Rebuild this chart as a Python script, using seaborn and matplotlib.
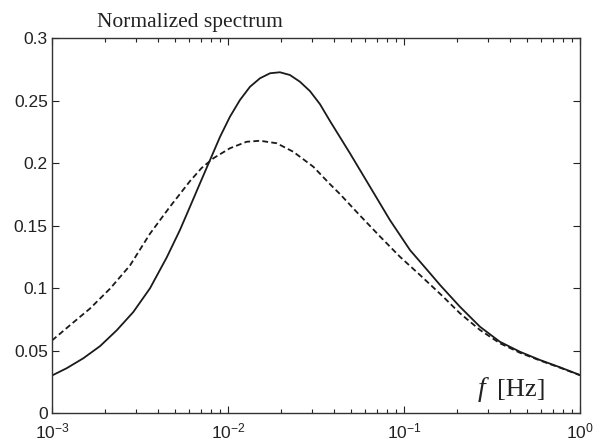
import numpy as np
import pandas as pd
import matplotlib
matplotlib.use('Agg')
import matplotlib.pyplot as plt
from matplotlib.ticker import LogLocator, NullFormatter
import seaborn as sns

# values (log10 of frequency, normalized spectrum)
logf_solid = [-3.0, -2.917, -2.822, -2.727, -2.632, -2.538, -2.443, -2.348, -2.273,
              -2.216, -2.159, -2.102, -2.045, -1.989, -1.932, -1.875, -1.818, -1.761,
              -1.705, -1.648, -1.591, -1.534, -1.477, -1.420, -1.307, -1.193, -1.080,
              -0.966, -0.852, -0.795, -0.682, -0.568, -0.455, -0.341, -0.227, -0.114, 0.0]
spec_solid = [0.0300, 0.0358, 0.0438, 0.0535, 0.0662, 0.0808, 0.0998, 0.1245, 0.1464,
              0.1650, 0.1838, 0.2024, 0.2210, 0.2370, 0.2504, 0.2610, 0.2678, 0.2718,
              0.2726, 0.2704, 0.2650, 0.2575, 0.2470, 0.2335, 0.2078, 0.1810, 0.1544,
              0.1304, 0.1118, 0.1024, 0.0850, 0.0690, 0.0570, 0.0490, 0.0424, 0.0366, 0.0304]

logf_dashed = [-3.0, -2.898, -2.784, -2.670, -2.557, -2.443, -2.330, -2.216, -2.150,
               -2.083, -1.989, -1.894, -1.818, -1.723, -1.629, -1.515, -1.420, -1.364,
               -1.250, -1.136, -1.023, -0.909, -0.777, -0.682, -0.568, -0.455, -0.341,
               -0.227, -0.114, 0.0]
spec_dashed = [0.0580, 0.0702, 0.0836, 0.0995, 0.1180, 0.1435, 0.1650, 0.1855, 0.1960,
               0.2038, 0.2118, 0.2170, 0.2178, 0.2158, 0.2090, 0.1970, 0.1830, 0.1752,
               0.1580, 0.1412, 0.1250, 0.1104, 0.0930, 0.0798, 0.0664, 0.0558, 0.0482,
               0.0420, 0.0363, 0.0302]

y_ticks = [0, 0.05, 0.1, 0.15, 0.2, 0.25, 0.3]
y_labels = ['0', '0.05', '0.1', '0.15', '0.2', '0.25', '0.3']

df = pd.concat([
    pd.DataFrame({'f': 10.0 ** np.array(logf_solid), 'S': spec_solid, 'case': 'a'}),
    pd.DataFrame({'f': 10.0 ** np.array(logf_dashed), 'S': spec_dashed, 'case': 'b'}),
])

sns.set_style('ticks')
plt.rcParams['font.family'] = ['Liberation Sans', 'DejaVu Sans']
plt.rcParams['mathtext.fontset'] = 'custom'
plt.rcParams['mathtext.rm'] = 'Liberation Sans'
plt.rcParams['mathtext.it'] = 'Liberation Sans:italic'

fig = plt.figure(figsize=(5.93, 4.44), dpi=100)
ax = fig.add_axes([0.0877, 0.0698, 0.8903, 0.8446])

sns.lineplot(data=df, x='f', y='S', style='case', dashes={'a': '', 'b': (3.2, 1.8)},
             color='#1a1a1a', linewidth=1.3, legend=False, ax=ax, sort=False)

ax.set_xscale('log')
ax.set_xlim(1e-3, 1)
ax.set_ylim(0, 0.3)
ax.set_yticks(y_ticks)
ax.set_yticklabels(y_labels)
ax.xaxis.set_minor_locator(LogLocator(base=10, subs=np.arange(2, 10)))
ax.xaxis.set_minor_formatter(NullFormatter())
ax.tick_params(which='both', direction='in', top=True, right=True,
               labelsize=12.5, colors='#222222', width=0.8)
ax.tick_params(which='major', length=5, pad=3)
ax.tick_params(axis='x', which='major', pad=6)
ax.tick_params(which='minor', length=3)
for s in ax.spines.values():
    s.set_linewidth(1.0)
    s.set_color('#333333')
ax.set_xlabel('')
ax.set_ylabel('')

fig.text(0.163, 0.94, 'Normalized spectrum', family='Liberation Serif',
         fontsize=15.5, color='#222222')
ax.text(0.806, 0.045, 'f', transform=ax.transAxes, family='Liberation Serif',
        fontsize=20, style='italic', color='#222222')
ax.text(0.842, 0.045, '[Hz]', transform=ax.transAxes, family='Liberation Serif',
        fontsize=19, color='#222222')

fig.savefig('out.png', dpi=100)
